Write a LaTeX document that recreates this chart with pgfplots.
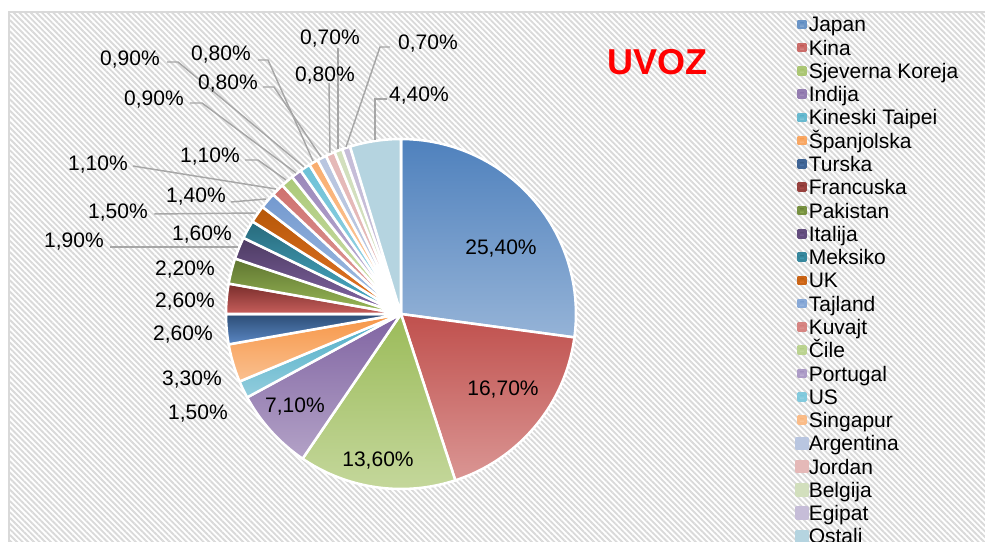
\documentclass[border=0pt]{standalone}
\usepackage{pgfplots}
\pgfplotsset{compat=1.18}
\usepackage{fontspec}
\setmainfont{Liberation Sans}
\usetikzlibrary{patterns.meta}

\definecolor{jpT}{HTML}{4F81BD}\definecolor{jpB}{HTML}{95B3D7}
\definecolor{kiT}{HTML}{C0504D}\definecolor{kiB}{HTML}{DA9694}
\definecolor{skT}{HTML}{9BBB59}\definecolor{skB}{HTML}{C4D79B}
\definecolor{inT}{HTML}{8064A2}\definecolor{inB}{HTML}{B3A2C7}
\definecolor{ktT}{HTML}{4BACC6}\definecolor{ktB}{HTML}{93CDDD}
\definecolor{spT}{HTML}{F79646}\definecolor{spB}{HTML}{FAC090}
\definecolor{tuT}{HTML}{2C4D75}\definecolor{tuB}{HTML}{5B87C4}
\definecolor{frT}{HTML}{772C2A}\definecolor{frB}{HTML}{C85F5C}
\definecolor{paT}{HTML}{5F7530}\definecolor{paB}{HTML}{9BBB59}
\definecolor{itT}{HTML}{4D3B62}\definecolor{itB}{HTML}{8568A8}
\definecolor{meT}{HTML}{276A7C}\definecolor{meB}{HTML}{4FB3CE}
\definecolor{ukT}{HTML}{B65708}\definecolor{ukB}{HTML}{E8782A}
\definecolor{taT}{HTML}{7399CF}\definecolor{taB}{HTML}{A7C0E3}
\definecolor{kuT}{HTML}{CF716E}\definecolor{kuB}{HTML}{E0A3A1}
\definecolor{ciT}{HTML}{ABC978}\definecolor{ciB}{HTML}{D3E2B5}
\definecolor{poT}{HTML}{9B87BA}\definecolor{poB}{HTML}{C7BCDA}
\definecolor{usT}{HTML}{6CC1D7}\definecolor{usB}{HTML}{A6D8E6}
\definecolor{siT}{HTML}{F9AD6E}\definecolor{siB}{HTML}{FCD3AF}
\definecolor{arC}{HTML}{B9C6E0}
\definecolor{joC}{HTML}{E5B9B8}
\definecolor{beC}{HTML}{D2DFBD}
\definecolor{egC}{HTML}{C6BDD8}
\definecolor{osC}{HTML}{B5D4E0}
\definecolor{stripe}{HTML}{D9D9D9}
\definecolor{leader}{HTML}{A6A6A6}
\definecolor{frame}{HTML}{D9D9D9}

\pgfplotsset{
  slice/.style={samples=40, draw=white, line width=1.9pt, line join=round},
  smallkey/.style 2 args={legend image code/.code={\fill[#1!60!#2] (-2.625pt,-2.625pt) rectangle (2.625pt,2.625pt);}},
  bigkey/.style={legend image code/.code={\fill[#1] (-4.125pt,-4.125pt) rectangle (4.125pt,4.125pt);}},
}

\def\total{93.6}
\def\curangle{90}
\newcommand\pieslice[3]{%
  \pgfmathsetmacro\tmpend{\curangle-#2*360/\total}%
  \edef\doslice{\noexpand\addplot[slice,#1,domain=\tmpend:\curangle] ({401+175*cos(x)},{228+175*sin(x)}) -- (axis cs:401,228) -- cycle;}%
  \doslice
  \addlegendentry{#3}%
  \global\let\curangle\tmpend}

\newcommand\lbl{\fontsize{15.75pt}{17pt}\selectfont}
\tikzset{pl/.style={font=\lbl, inner sep=0pt, text height=11.3pt, text depth=0pt, anchor=center}}

\begin{document}
\begin{tikzpicture}
\path[use as bounding box] (-6.75pt,0pt) rectangle (732pt,406.5pt);
\clip (-6.75pt,0pt) rectangle (732pt,406.5pt);
\begin{axis}[
  scale only axis, width=732pt, height=397.5pt,
  xmin=9, xmax=985, ymin=0, ymax=530,
  xtick=\empty, ytick=\empty, axis line style={draw=none},
  clip=false,
  axis background/.style={preaction={fill=white}, pattern={Lines[angle=-45,distance=3pt,line width=1.4pt]}, pattern color=stripe},
  legend style={at={(axis cs:795,529.6)}, anchor=north west, draw=none, fill=none, inner sep=0pt,
    font=\lbl, row sep=0pt, column sep=0pt,
    nodes={inner sep=0pt, text height=14.38pt, text depth=3.08pt}},
  legend cell align=left,
]
\pieslice{top color=jpT,bottom color=jpB,smallkey={jpT}{jpB}}{25.4}{Japan}
\pieslice{top color=kiT,bottom color=kiB,smallkey={kiT}{kiB}}{16.7}{Kina}
\pieslice{top color=skT,bottom color=skB,smallkey={skT}{skB}}{13.6}{Sjeverna Koreja}
\pieslice{top color=inT,bottom color=inB,smallkey={inT}{inB}}{7.1}{Indija}
\pieslice{top color=ktT,bottom color=ktB,smallkey={ktT}{ktB}}{1.5}{Kineski Taipei}
\pieslice{top color=spT,bottom color=spB,smallkey={spT}{spB}}{3.3}{Španjolska}
\pieslice{top color=tuT,bottom color=tuB,smallkey={tuT}{tuB}}{2.6}{Turska}
\pieslice{top color=frT,bottom color=frB,smallkey={frT}{frB}}{2.6}{Francuska}
\pieslice{top color=paT,bottom color=paB,smallkey={paT}{paB}}{2.2}{Pakistan}
\pieslice{top color=itT,bottom color=itB,smallkey={itT}{itB}}{1.9}{Italija}
\pieslice{top color=meT,bottom color=meB,smallkey={meT}{meB}}{1.6}{Meksiko}
\pieslice{top color=ukT,bottom color=ukB,smallkey={ukT}{ukB}}{1.5}{UK}
\pieslice{top color=taT,bottom color=taB,smallkey={taT}{taB}}{1.4}{Tajland}
\pieslice{top color=kuT,bottom color=kuB,smallkey={kuT}{kuB}}{1.1}{Kuvajt}
\pieslice{top color=ciT,bottom color=ciB,smallkey={ciT}{ciB}}{1.1}{Čile}
\pieslice{top color=poT,bottom color=poB,smallkey={poT}{poB}}{0.9}{Portugal}
\pieslice{top color=usT,bottom color=usB,smallkey={usT}{usB}}{0.9}{US}
\pieslice{top color=siT,bottom color=siB,smallkey={siT}{siB}}{0.8}{Singapur}
\pieslice{fill=arC,bigkey=arC}{0.8}{Argentina}
\pieslice{fill=joC,bigkey=joC}{0.8}{Jordan}
\pieslice{fill=beC,bigkey=beC}{0.7}{Belgija}
\pieslice{fill=egC,bigkey=egC}{0.7}{Egipat}
\pieslice{fill=osC,bigkey=osC}{4.4}{Ostali}

% frame
\draw[frame, line width=0.8pt] (axis cs:9,0) -- (axis cs:9,530) -- (axis cs:985,530);

% leader lines
\begin{scope}[leader, line width=1.1pt]
\draw (axis cs:110,295) -- (axis cs:238,295);
\draw (axis cs:154,328) -- (axis cs:256,329);
\draw (axis cs:231,340) -- (axis cs:266,343);
\draw (axis cs:133,376) -- (axis cs:276,353);
\draw (axis cs:245,382) -- (axis cs:258,382) -- (axis cs:286,362);
\draw (axis cs:190,439) -- (axis cs:202,439) -- (axis cs:296,369);
\draw (axis cs:167,480) -- (axis cs:178,480) -- (axis cs:304,375);
\draw (axis cs:258,482) -- (axis cs:268,482) -- (axis cs:313,381);
\draw (axis cs:263,455) -- (axis cs:274,455) -- (axis cs:321,385);
\draw (axis cs:329,459) -- (axis cs:330,389);
\draw (axis cs:338,494) -- (axis cs:338,393);
\draw (axis cs:390,495) -- (axis cs:380,495) -- (axis cs:346,395);
\draw (axis cs:387,443) -- (axis cs:375,443) -- (axis cs:375,402);
\end{scope}

% labels
\node[pl] at (axis cs:501,295) {25,40\%};
\node[pl] at (axis cs:503,154) {16,70\%};
\node[pl] at (axis cs:378,83) {13,60\%};
\node[pl] at (axis cs:295,137) {7,10\%};
\node[pl] at (axis cs:198,130) {1,50\%};
\node[pl] at (axis cs:192,164) {3,30\%};
\node[pl] at (axis cs:183,209) {2,60\%};
\node[pl] at (axis cs:185,242) {2,60\%};
\node[pl] at (axis cs:185,274) {2,20\%};
\node[pl] at (axis cs:202,309) {1,60\%};
\node[pl] at (axis cs:74,302) {1,90\%};
\node[pl] at (axis cs:118,331) {1,50\%};
\node[pl] at (axis cs:196,347) {1,40\%};
\node[pl] at (axis cs:98,379) {1,10\%};
\node[pl] at (axis cs:210,387) {1,10\%};
\node[pl] at (axis cs:154,444) {0,90\%};
\node[pl] at (axis cs:130,484) {0,90\%};
\node[pl] at (axis cs:221,489) {0,80\%};
\node[pl] at (axis cs:228,460) {0,80\%};
\node[pl] at (axis cs:325,468) {0,80\%};
\node[pl] at (axis cs:330,505) {0,70\%};
\node[pl] at (axis cs:428,500) {0,70\%};
\node[pl] at (axis cs:419,448) {4,40\%};

% title
\node[font=\fontsize{27pt}{27pt}\selectfont\bfseries, text=red, inner sep=0pt, text height=19.3pt, text depth=0pt] at (axis cs:657.5,480.5) {UVOZ};
\end{axis}
\end{tikzpicture}
\end{document}
